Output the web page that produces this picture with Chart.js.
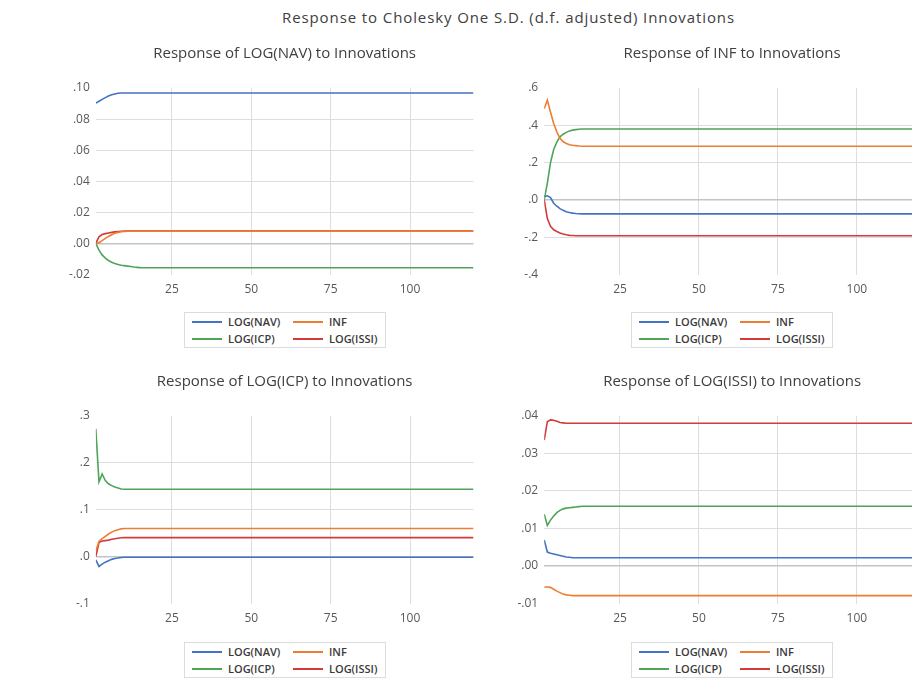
<!DOCTYPE html>
<html>
<head>
<meta charset="utf-8">
<script src="https://cdn.jsdelivr.net/npm/chart.js@4/dist/chart.umd.min.js"></script>
<style>
html,body{margin:0;padding:0;background:#fff;overflow:hidden;}
#page{position:relative;width:912px;height:679px;overflow:hidden;background:#fff;font-family:"Open Sans",sans-serif;}
#mainTitle{position:absolute;left:0;width:1017px;top:6px;text-align:center;font-size:15px;line-height:22px;letter-spacing:0.9px;color:#404040;white-space:nowrap;}
canvas{position:absolute;}
.legend{position:absolute;width:202px;height:36px;border:1px solid #dcdcdc;box-sizing:border-box;background:#fff;}
.lg-item{position:absolute;height:14px;white-space:nowrap;font-size:11px;line-height:14px;font-weight:600;color:#3a3a3a;}
.lg-line{position:absolute;left:0;top:6px;width:30px;height:2px;}
.lg-text{position:absolute;left:36px;top:0;}
</style>
</head>
<body>
<div id="page">
  <div id="mainTitle">Response to Cholesky One S.D. (d.f. adjusted) Innovations</div>
</div>
<script>
// ---- categories / ticks ----
const periods = Array.from({length: 120}, (_, i) => i + 1);
const xTicks = [25, 50, 75, 100];
const seriesNames = ['LOG(NAV)', 'INF', 'LOG(ICP)', 'LOG(ISSI)'];

const yTicksNAV  = [-0.02, 0, 0.02, 0.04, 0.06, 0.08, 0.10];
const yTicksINF  = [-0.4, -0.2, 0, 0.2, 0.4, 0.6];
const yTicksICP  = [-0.1, 0, 0.1, 0.2, 0.3];
const yTicksISSI = [-0.01, 0, 0.01, 0.02, 0.03, 0.04];

// ---- Response of LOG(NAV) ----
const navNAV = [
.0903,.0915,.0927,.0938,.0948,.0956,.0962,.0966,.0968,.0968,
.0968,.0968,.0968,.0968,.0968,.0968,.0968,.0968,.0968,.0968,
.0968,.0968,.0968,.0968,.0968,.0968,.0968,.0968,.0968,.0968,
.0968,.0968,.0968,.0968,.0968,.0968,.0968,.0968,.0968,.0968,
.0968,.0968,.0968,.0968,.0968,.0968,.0968,.0968,.0968,.0968,
.0968,.0968,.0968,.0968,.0968,.0968,.0968,.0968,.0968,.0968,
.0968,.0968,.0968,.0968,.0968,.0968,.0968,.0968,.0968,.0968,
.0968,.0968,.0968,.0968,.0968,.0968,.0968,.0968,.0968,.0968,
.0968,.0968,.0968,.0968,.0968,.0968,.0968,.0968,.0968,.0968,
.0968,.0968,.0968,.0968,.0968,.0968,.0968,.0968,.0968,.0968,
.0968,.0968,.0968,.0968,.0968,.0968,.0968,.0968,.0968,.0968,
.0968,.0968,.0968,.0968,.0968,.0968,.0968,.0968,.0968,.0968];
const navINF = [
0,.0005,.0018,.0032,.0045,.0056,.0065,.0071,.0075,.0077,
.0078,.0078,.0078,.0078,.0078,.0078,.0078,.0078,.0078,.0078,
.0078,.0078,.0078,.0078,.0078,.0078,.0078,.0078,.0078,.0078,
.0078,.0078,.0078,.0078,.0078,.0078,.0078,.0078,.0078,.0078,
.0078,.0078,.0078,.0078,.0078,.0078,.0078,.0078,.0078,.0078,
.0078,.0078,.0078,.0078,.0078,.0078,.0078,.0078,.0078,.0078,
.0078,.0078,.0078,.0078,.0078,.0078,.0078,.0078,.0078,.0078,
.0078,.0078,.0078,.0078,.0078,.0078,.0078,.0078,.0078,.0078,
.0078,.0078,.0078,.0078,.0078,.0078,.0078,.0078,.0078,.0078,
.0078,.0078,.0078,.0078,.0078,.0078,.0078,.0078,.0078,.0078,
.0078,.0078,.0078,.0078,.0078,.0078,.0078,.0078,.0078,.0078,
.0078,.0078,.0078,.0078,.0078,.0078,.0078,.0078,.0078,.0078];
const navICP = [
0,-.0043,-.0074,-.0095,-.0110,-.0121,-.0129,-.0136,-.0140,-.0143,
-.0146,-.0149,-.0152,-.0154,-.0156,-.0157,-.0157,-.0157,-.0157,-.0157,
-.0157,-.0157,-.0157,-.0157,-.0157,-.0157,-.0157,-.0157,-.0157,-.0157,
-.0157,-.0157,-.0157,-.0157,-.0157,-.0157,-.0157,-.0157,-.0157,-.0157,
-.0157,-.0157,-.0157,-.0157,-.0157,-.0157,-.0157,-.0157,-.0157,-.0157,
-.0157,-.0157,-.0157,-.0157,-.0157,-.0157,-.0157,-.0157,-.0157,-.0157,
-.0157,-.0157,-.0157,-.0157,-.0157,-.0157,-.0157,-.0157,-.0157,-.0157,
-.0157,-.0157,-.0157,-.0157,-.0157,-.0157,-.0157,-.0157,-.0157,-.0157,
-.0157,-.0157,-.0157,-.0157,-.0157,-.0157,-.0157,-.0157,-.0157,-.0157,
-.0157,-.0157,-.0157,-.0157,-.0157,-.0157,-.0157,-.0157,-.0157,-.0157,
-.0157,-.0157,-.0157,-.0157,-.0157,-.0157,-.0157,-.0157,-.0157,-.0157,
-.0157,-.0157,-.0157,-.0157,-.0157,-.0157,-.0157,-.0157,-.0157,-.0157];
const navISSI = [
0,.0042,.0057,.0063,.0067,.0071,.0074,.0076,.0078,.0079,
.0079,.0079,.0079,.0079,.0079,.0079,.0079,.0079,.0079,.0079,
.0079,.0079,.0079,.0079,.0079,.0079,.0079,.0079,.0079,.0079,
.0079,.0079,.0079,.0079,.0079,.0079,.0079,.0079,.0079,.0079,
.0079,.0079,.0079,.0079,.0079,.0079,.0079,.0079,.0079,.0079,
.0079,.0079,.0079,.0079,.0079,.0079,.0079,.0079,.0079,.0079,
.0079,.0079,.0079,.0079,.0079,.0079,.0079,.0079,.0079,.0079,
.0079,.0079,.0079,.0079,.0079,.0079,.0079,.0079,.0079,.0079,
.0079,.0079,.0079,.0079,.0079,.0079,.0079,.0079,.0079,.0079,
.0079,.0079,.0079,.0079,.0079,.0079,.0079,.0079,.0079,.0079,
.0079,.0079,.0079,.0079,.0079,.0079,.0079,.0079,.0079,.0079,
.0079,.0079,.0079,.0079,.0079,.0079,.0079,.0079,.0079,.0079];

// ---- Response of INF ----
const infNAV = [
.018,.022,.012,-.018,-.034,-.047,-.056,-.063,-.068,-.071,
-.073,-.074,-.075,-.075,-.075,-.075,-.075,-.075,-.075,-.075,
-.075,-.075,-.075,-.075,-.075,-.075,-.075,-.075,-.075,-.075,
-.075,-.075,-.075,-.075,-.075,-.075,-.075,-.075,-.075,-.075,
-.075,-.075,-.075,-.075,-.075,-.075,-.075,-.075,-.075,-.075,
-.075,-.075,-.075,-.075,-.075,-.075,-.075,-.075,-.075,-.075,
-.075,-.075,-.075,-.075,-.075,-.075,-.075,-.075,-.075,-.075,
-.075,-.075,-.075,-.075,-.075,-.075,-.075,-.075,-.075,-.075,
-.075,-.075,-.075,-.075,-.075,-.075,-.075,-.075,-.075,-.075,
-.075,-.075,-.075,-.075,-.075,-.075,-.075,-.075,-.075,-.075,
-.075,-.075,-.075,-.075,-.075,-.075,-.075,-.075,-.075,-.075,
-.075,-.075,-.075,-.075,-.075,-.075,-.075,-.075,-.075,-.075];
const infINF = [
.489,.535,.470,.410,.365,.330,.313,.302,.296,.293,
.291,.289,.288,.288,.288,.288,.288,.288,.288,.288,
.288,.288,.288,.288,.288,.288,.288,.288,.288,.288,
.288,.288,.288,.288,.288,.288,.288,.288,.288,.288,
.288,.288,.288,.288,.288,.288,.288,.288,.288,.288,
.288,.288,.288,.288,.288,.288,.288,.288,.288,.288,
.288,.288,.288,.288,.288,.288,.288,.288,.288,.288,
.288,.288,.288,.288,.288,.288,.288,.288,.288,.288,
.288,.288,.288,.288,.288,.288,.288,.288,.288,.288,
.288,.288,.288,.288,.288,.288,.288,.288,.288,.288,
.288,.288,.288,.288,.288,.288,.288,.288,.288,.288,
.288,.288,.288,.288,.288,.288,.288,.288,.288,.288];
const infICP = [
0,.090,.200,.270,.310,.338,.352,.362,.370,.374,
.377,.379,.380,.380,.380,.380,.380,.380,.380,.380,
.380,.380,.380,.380,.380,.380,.380,.380,.380,.380,
.380,.380,.380,.380,.380,.380,.380,.380,.380,.380,
.380,.380,.380,.380,.380,.380,.380,.380,.380,.380,
.380,.380,.380,.380,.380,.380,.380,.380,.380,.380,
.380,.380,.380,.380,.380,.380,.380,.380,.380,.380,
.380,.380,.380,.380,.380,.380,.380,.380,.380,.380,
.380,.380,.380,.380,.380,.380,.380,.380,.380,.380,
.380,.380,.380,.380,.380,.380,.380,.380,.380,.380,
.380,.380,.380,.380,.380,.380,.380,.380,.380,.380,
.380,.380,.380,.380,.380,.380,.380,.380,.380,.380];
const infISSI = [
0,-.100,-.142,-.160,-.169,-.177,-.183,-.187,-.190,-.191,
-.192,-.192,-.192,-.192,-.192,-.192,-.192,-.192,-.192,-.192,
-.192,-.192,-.192,-.192,-.192,-.192,-.192,-.192,-.192,-.192,
-.192,-.192,-.192,-.192,-.192,-.192,-.192,-.192,-.192,-.192,
-.192,-.192,-.192,-.192,-.192,-.192,-.192,-.192,-.192,-.192,
-.192,-.192,-.192,-.192,-.192,-.192,-.192,-.192,-.192,-.192,
-.192,-.192,-.192,-.192,-.192,-.192,-.192,-.192,-.192,-.192,
-.192,-.192,-.192,-.192,-.192,-.192,-.192,-.192,-.192,-.192,
-.192,-.192,-.192,-.192,-.192,-.192,-.192,-.192,-.192,-.192,
-.192,-.192,-.192,-.192,-.192,-.192,-.192,-.192,-.192,-.192,
-.192,-.192,-.192,-.192,-.192,-.192,-.192,-.192,-.192,-.192,
-.192,-.192,-.192,-.192,-.192,-.192,-.192,-.192,-.192,-.192];

// ---- Response of LOG(ICP) ----
const icpNAV = [
-.007,-.021,-.016,-.012,-.009,-.006,-.004,-.003,-.002,-.0015,
-.0014,-.0014,-.0014,-.0014,-.0014,-.0014,-.0014,-.0014,-.0014,-.0014,
-.0014,-.0014,-.0014,-.0014,-.0014,-.0014,-.0014,-.0014,-.0014,-.0014,
-.0014,-.0014,-.0014,-.0014,-.0014,-.0014,-.0014,-.0014,-.0014,-.0014,
-.0014,-.0014,-.0014,-.0014,-.0014,-.0014,-.0014,-.0014,-.0014,-.0014,
-.0014,-.0014,-.0014,-.0014,-.0014,-.0014,-.0014,-.0014,-.0014,-.0014,
-.0014,-.0014,-.0014,-.0014,-.0014,-.0014,-.0014,-.0014,-.0014,-.0014,
-.0014,-.0014,-.0014,-.0014,-.0014,-.0014,-.0014,-.0014,-.0014,-.0014,
-.0014,-.0014,-.0014,-.0014,-.0014,-.0014,-.0014,-.0014,-.0014,-.0014,
-.0014,-.0014,-.0014,-.0014,-.0014,-.0014,-.0014,-.0014,-.0014,-.0014,
-.0014,-.0014,-.0014,-.0014,-.0014,-.0014,-.0014,-.0014,-.0014,-.0014,
-.0014,-.0014,-.0014,-.0014,-.0014,-.0014,-.0014,-.0014,-.0014,-.0014];
const icpINF = [
.012,.032,.038,.043,.048,.052,.055,.057,.059,.0596,
.0596,.0596,.0596,.0596,.0596,.0596,.0596,.0596,.0596,.0596,
.0596,.0596,.0596,.0596,.0596,.0596,.0596,.0596,.0596,.0596,
.0596,.0596,.0596,.0596,.0596,.0596,.0596,.0596,.0596,.0596,
.0596,.0596,.0596,.0596,.0596,.0596,.0596,.0596,.0596,.0596,
.0596,.0596,.0596,.0596,.0596,.0596,.0596,.0596,.0596,.0596,
.0596,.0596,.0596,.0596,.0596,.0596,.0596,.0596,.0596,.0596,
.0596,.0596,.0596,.0596,.0596,.0596,.0596,.0596,.0596,.0596,
.0596,.0596,.0596,.0596,.0596,.0596,.0596,.0596,.0596,.0596,
.0596,.0596,.0596,.0596,.0596,.0596,.0596,.0596,.0596,.0596,
.0596,.0596,.0596,.0596,.0596,.0596,.0596,.0596,.0596,.0596,
.0596,.0596,.0596,.0596,.0596,.0596,.0596,.0596,.0596,.0596];
const icpICP = [
.272,.159,.176,.162,.155,.151,.148,.146,.144,.1435,
.1434,.1434,.1434,.1434,.1434,.1434,.1434,.1434,.1434,.1434,
.1434,.1434,.1434,.1434,.1434,.1434,.1434,.1434,.1434,.1434,
.1434,.1434,.1434,.1434,.1434,.1434,.1434,.1434,.1434,.1434,
.1434,.1434,.1434,.1434,.1434,.1434,.1434,.1434,.1434,.1434,
.1434,.1434,.1434,.1434,.1434,.1434,.1434,.1434,.1434,.1434,
.1434,.1434,.1434,.1434,.1434,.1434,.1434,.1434,.1434,.1434,
.1434,.1434,.1434,.1434,.1434,.1434,.1434,.1434,.1434,.1434,
.1434,.1434,.1434,.1434,.1434,.1434,.1434,.1434,.1434,.1434,
.1434,.1434,.1434,.1434,.1434,.1434,.1434,.1434,.1434,.1434,
.1434,.1434,.1434,.1434,.1434,.1434,.1434,.1434,.1434,.1434,
.1434,.1434,.1434,.1434,.1434,.1434,.1434,.1434,.1434,.1434];
const icpISSI = [
0,.030,.033,.034,.035,.037,.038,.039,.040,.0404,
.0404,.0404,.0404,.0404,.0404,.0404,.0404,.0404,.0404,.0404,
.0404,.0404,.0404,.0404,.0404,.0404,.0404,.0404,.0404,.0404,
.0404,.0404,.0404,.0404,.0404,.0404,.0404,.0404,.0404,.0404,
.0404,.0404,.0404,.0404,.0404,.0404,.0404,.0404,.0404,.0404,
.0404,.0404,.0404,.0404,.0404,.0404,.0404,.0404,.0404,.0404,
.0404,.0404,.0404,.0404,.0404,.0404,.0404,.0404,.0404,.0404,
.0404,.0404,.0404,.0404,.0404,.0404,.0404,.0404,.0404,.0404,
.0404,.0404,.0404,.0404,.0404,.0404,.0404,.0404,.0404,.0404,
.0404,.0404,.0404,.0404,.0404,.0404,.0404,.0404,.0404,.0404,
.0404,.0404,.0404,.0404,.0404,.0404,.0404,.0404,.0404,.0404,
.0404,.0404,.0404,.0404,.0404,.0404,.0404,.0404,.0404,.0404];

// ---- Response of LOG(ISSI) ----
const issiNAV = [
.0069,.0037,.0034,.0032,.0030,.0028,.0026,.0024,.0023,.0022,
.0022,.0022,.0022,.0022,.0022,.0022,.0022,.0022,.0022,.0022,
.0022,.0022,.0022,.0022,.0022,.0022,.0022,.0022,.0022,.0022,
.0022,.0022,.0022,.0022,.0022,.0022,.0022,.0022,.0022,.0022,
.0022,.0022,.0022,.0022,.0022,.0022,.0022,.0022,.0022,.0022,
.0022,.0022,.0022,.0022,.0022,.0022,.0022,.0022,.0022,.0022,
.0022,.0022,.0022,.0022,.0022,.0022,.0022,.0022,.0022,.0022,
.0022,.0022,.0022,.0022,.0022,.0022,.0022,.0022,.0022,.0022,
.0022,.0022,.0022,.0022,.0022,.0022,.0022,.0022,.0022,.0022,
.0022,.0022,.0022,.0022,.0022,.0022,.0022,.0022,.0022,.0022,
.0022,.0022,.0022,.0022,.0022,.0022,.0022,.0022,.0022,.0022,
.0022,.0022,.0022,.0022,.0022,.0022,.0022,.0022,.0022,.0022];
const issiINF = [
-.0056,-.0056,-.0057,-.0062,-.0067,-.0071,-.0075,-.0077,-.0078,-.0079,
-.0079,-.0079,-.0079,-.0079,-.0079,-.0079,-.0079,-.0079,-.0079,-.0079,
-.0079,-.0079,-.0079,-.0079,-.0079,-.0079,-.0079,-.0079,-.0079,-.0079,
-.0079,-.0079,-.0079,-.0079,-.0079,-.0079,-.0079,-.0079,-.0079,-.0079,
-.0079,-.0079,-.0079,-.0079,-.0079,-.0079,-.0079,-.0079,-.0079,-.0079,
-.0079,-.0079,-.0079,-.0079,-.0079,-.0079,-.0079,-.0079,-.0079,-.0079,
-.0079,-.0079,-.0079,-.0079,-.0079,-.0079,-.0079,-.0079,-.0079,-.0079,
-.0079,-.0079,-.0079,-.0079,-.0079,-.0079,-.0079,-.0079,-.0079,-.0079,
-.0079,-.0079,-.0079,-.0079,-.0079,-.0079,-.0079,-.0079,-.0079,-.0079,
-.0079,-.0079,-.0079,-.0079,-.0079,-.0079,-.0079,-.0079,-.0079,-.0079,
-.0079,-.0079,-.0079,-.0079,-.0079,-.0079,-.0079,-.0079,-.0079,-.0079,
-.0079,-.0079,-.0079,-.0079,-.0079,-.0079,-.0079,-.0079,-.0079,-.0079];
const issiICP = [
.0138,.0108,.0122,.0133,.0142,.0148,.0152,.0154,.0155,.0156,
.0157,.0158,.0159,.0159,.0159,.0159,.0159,.0159,.0159,.0159,
.0159,.0159,.0159,.0159,.0159,.0159,.0159,.0159,.0159,.0159,
.0159,.0159,.0159,.0159,.0159,.0159,.0159,.0159,.0159,.0159,
.0159,.0159,.0159,.0159,.0159,.0159,.0159,.0159,.0159,.0159,
.0159,.0159,.0159,.0159,.0159,.0159,.0159,.0159,.0159,.0159,
.0159,.0159,.0159,.0159,.0159,.0159,.0159,.0159,.0159,.0159,
.0159,.0159,.0159,.0159,.0159,.0159,.0159,.0159,.0159,.0159,
.0159,.0159,.0159,.0159,.0159,.0159,.0159,.0159,.0159,.0159,
.0159,.0159,.0159,.0159,.0159,.0159,.0159,.0159,.0159,.0159,
.0159,.0159,.0159,.0159,.0159,.0159,.0159,.0159,.0159,.0159,
.0159,.0159,.0159,.0159,.0159,.0159,.0159,.0159,.0159,.0159];
const issiISSI = [
.0335,.0384,.0389,.0388,.0385,.0382,.0381,.0380,.0380,.0380,
.0380,.0380,.0380,.0380,.0380,.0380,.0380,.0380,.0380,.0380,
.0380,.0380,.0380,.0380,.0380,.0380,.0380,.0380,.0380,.0380,
.0380,.0380,.0380,.0380,.0380,.0380,.0380,.0380,.0380,.0380,
.0380,.0380,.0380,.0380,.0380,.0380,.0380,.0380,.0380,.0380,
.0380,.0380,.0380,.0380,.0380,.0380,.0380,.0380,.0380,.0380,
.0380,.0380,.0380,.0380,.0380,.0380,.0380,.0380,.0380,.0380,
.0380,.0380,.0380,.0380,.0380,.0380,.0380,.0380,.0380,.0380,
.0380,.0380,.0380,.0380,.0380,.0380,.0380,.0380,.0380,.0380,
.0380,.0380,.0380,.0380,.0380,.0380,.0380,.0380,.0380,.0380,
.0380,.0380,.0380,.0380,.0380,.0380,.0380,.0380,.0380,.0380,
.0380,.0380,.0380,.0380,.0380,.0380,.0380,.0380,.0380,.0380];

// ---- styles & layout (kept separate from data) ----
const seriesColors = ['#4472C4', '#ED7D31', '#4FA458', '#D33A3A'];
const FONT = '"Open Sans", sans-serif';
const TITLE_SIZE = 15;
const TEXT_COLOR = '#404040';
const TICK_COLOR = '#595959';

const panels = [
  {title: 'Response of LOG(NAV) to Innovations', series: [navNAV, navINF, navICP, navISSI], yTicks: yTicksNAV, dec: 2,
   box: {left: 0, top: 40, width: 480, height: 266}, plot: {left: 95.8, right: 473.5, top: 88, bottom: 274.5}, titleY: 54, legend: {left: 184, top: 312}},
  {title: 'Response of INF to Innovations', series: [infNAV, infINF, infICP, infISSI], yTicks: yTicksINF, dec: 1,
   box: {left: 480, top: 40, width: 443, height: 266}, plot: {left: 544.2, right: 920, top: 88, bottom: 274.5}, titleY: 54, legend: {left: 631, top: 312}},
  {title: 'Response of LOG(ICP) to Innovations', series: [icpNAV, icpINF, icpICP, icpISSI], yTicks: yTicksICP, dec: 1,
   box: {left: 0, top: 368, width: 480, height: 272}, plot: {left: 95.8, right: 473.5, top: 415.7, bottom: 603.5}, titleY: 382, legend: {left: 184, top: 641.5}},
  {title: 'Response of LOG(ISSI) to Innovations', series: [issiNAV, issiINF, issiICP, issiISSI], yTicks: yTicksISSI, dec: 2,
   box: {left: 480, top: 368, width: 443, height: 272}, plot: {left: 544.2, right: 920, top: 415.7, bottom: 603.5}, titleY: 382, legend: {left: 631, top: 641.5}}
];

function fmtTick(v, dec) {
  const s = Math.abs(v).toFixed(dec).replace(/^0/, '');
  return (v < 0 ? '-' : '') + s;
}

const page = document.getElementById('page');

panels.forEach((p) => {
  const canvas = document.createElement('canvas');
  canvas.width = p.box.width;
  canvas.height = p.box.height;
  canvas.style.left = p.box.left + 'px';
  canvas.style.top = p.box.top + 'px';
  canvas.style.width = p.box.width + 'px';
  canvas.style.height = p.box.height + 'px';
  page.appendChild(canvas);

  const lh = TITLE_SIZE * 1.2;
  const padTop = p.titleY - p.box.top - lh / 2;
  const padBottom = p.plot.top - p.box.top - padTop - lh;
  const yMin = p.yTicks[0], yMax = p.yTicks[p.yTicks.length - 1];

  new Chart(canvas, {
    type: 'line',
    data: {
      labels: periods,
      datasets: p.series.map((d, i) => ({
        label: seriesNames[i], data: d, borderColor: seriesColors[i], backgroundColor: seriesColors[i],
        borderWidth: 1.6, pointRadius: 0, tension: 0, fill: false
      }))
    },
    options: {
      responsive: false, animation: false, devicePixelRatio: 1,
      layout: {padding: {left: 0, top: 0, bottom: 0, right: p.box.left + p.box.width - p.plot.right}},
      plugins: {
        legend: {display: false}, tooltip: {enabled: false},
        title: {display: true, text: p.title, fullSize: false, color: TEXT_COLOR,
          font: {family: FONT, size: TITLE_SIZE, weight: 'normal'}, padding: {top: padTop, bottom: padBottom}}
      },
      scales: {
        x: {
          type: 'linear', min: 1, max: 120,
          afterBuildTicks: (a) => { a.ticks = xTicks.map(v => ({value: v})); },
          afterFit: (a) => { a.height = p.box.top + p.box.height - p.plot.bottom; },
          grid: {color: '#dedede', lineWidth: 1, drawTicks: false},
          border: {display: false},
          ticks: {padding: 8, color: TICK_COLOR, font: {family: FONT, size: 12}, callback: (v) => String(v)}
        },
        y: {
          min: yMin, max: yMax,
          afterBuildTicks: (a) => { a.ticks = p.yTicks.map(v => ({value: v})); },
          afterFit: (a) => { a.width = p.plot.left - p.box.left; },
          grid: {
            drawTicks: false,
            color: (c) => (c.tick && (c.tick.value === yMin || c.tick.value === yMax)) ? 'rgba(0,0,0,0)' : (c.tick && c.tick.value === 0 ? '#c4c4c4' : '#dedede'),
            lineWidth: (c) => (c.tick && c.tick.value === 0) ? 1.6 : 1
          },
          border: {display: false},
          ticks: {padding: 6, color: TICK_COLOR, font: {family: FONT, size: 12}, callback: (v) => fmtTick(v, p.dec)}
        }
      }
    }
  });

  // legend built from the series names / colours
  const lg = document.createElement('div');
  lg.className = 'legend';
  lg.style.left = p.legend.left + 'px';
  lg.style.top = Math.round(p.legend.top) + 'px';
  seriesNames.forEach((name, i) => {
    const it = document.createElement('div');
    it.className = 'lg-item';
    it.style.left = (i % 2 === 0 ? 7 : 108) + 'px';
    it.style.top = (i < 2 ? 2 : 19) + 'px';
    const ln = document.createElement('div');
    ln.className = 'lg-line';
    ln.style.background = seriesColors[i];
    const tx = document.createElement('span');
    tx.className = 'lg-text';
    tx.textContent = name;
    it.appendChild(ln);
    it.appendChild(tx);
    lg.appendChild(it);
  });
  page.appendChild(lg);
});
</script>
</body>
</html>
